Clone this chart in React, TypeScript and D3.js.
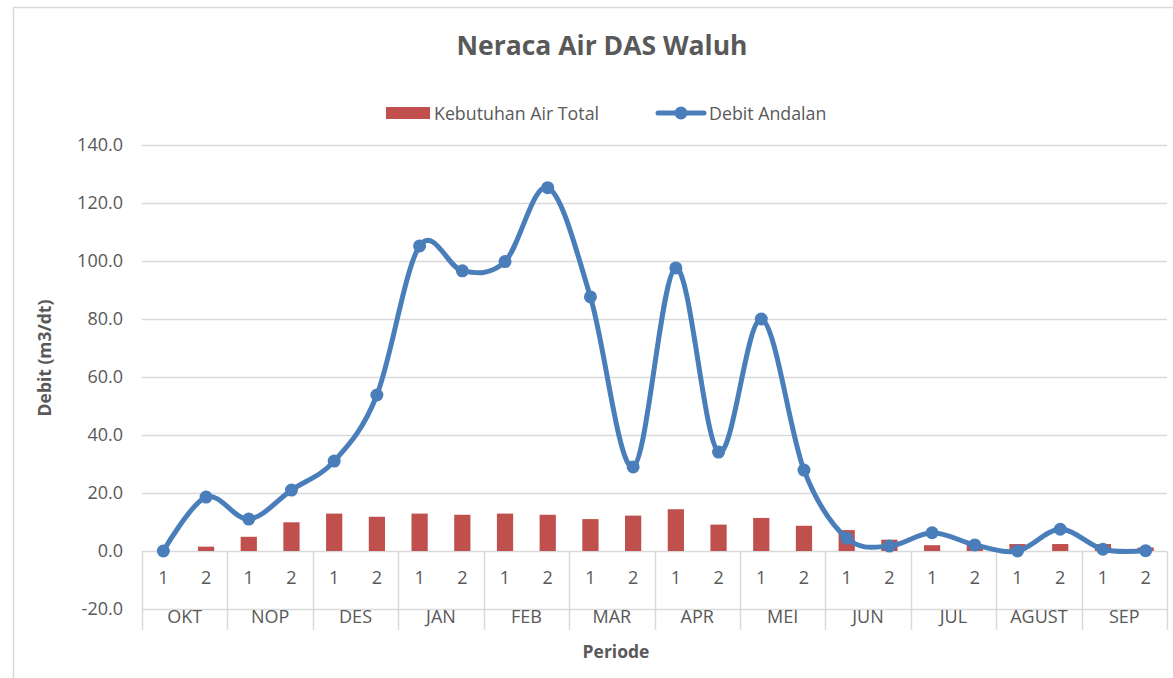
import React, { useEffect, useRef } from 'react';
import * as d3 from 'd3';

// half-month periods, two per month
const months = ['OKT', 'NOP', 'DES', 'JAN', 'FEB', 'MAR', 'APR', 'MEI', 'JUN', 'JUL', 'AGUST', 'SEP'];
const halves = ['1', '2'];

// Kebutuhan Air Total (m3/dt)
const kebutuhan = [0, 1.5, 4.9, 9.9, 12.9, 11.8, 12.9, 12.5, 12.9, 12.5, 11.0, 12.2,
  14.4, 9.1, 11.4, 8.7, 7.2, 3.9, 2.0, 2.2, 2.4, 2.4, 2.4, 1.2];

// Debit Andalan (m3/dt)
const debit = [0.0, 18.6, 11.0, 21.0, 31.0, 53.8, 105.2, 96.6, 99.8, 125.3, 87.6, 29.0,
  97.6, 34.1, 80.0, 27.9, 4.4, 1.7, 6.3, 2.1, 0.0, 7.5, 0.6, 0.1];

const yTicks = [-20, 0, 20, 40, 60, 80, 100, 120, 140];

const FONT = "'Open Sans', 'Liberation Sans', sans-serif";
const TEXT = '#595959';
const GRID = '#d9d9d9';
const RED = '#c0504d';
const BLUE = '#4a7ebb';

const NeracaAirChart = () => {
  const svgRef = useRef<SVGSVGElement | null>(null);

  useEffect(() => {
    if (!svgRef.current) return;
    const svg = d3.select(svgRef.current);
    svg.selectAll('*').remove();

    const width = 1173;
    const height = 678;
    const plot = { left: 142, right: 1167, top: 145, bottom: 609 };

    const periods = months.flatMap((m) => halves.map((h) => `${m}-${h}`));

    const x = d3.scaleBand<string>()
      .domain(periods)
      .range([plot.left, plot.right])
      .padding(0);

    const y = d3.scaleLinear()
      .domain([-20, 140])
      .range([plot.bottom, plot.top]);

    const barW = x.bandwidth() * 0.38;
    const cx = (i: number) => (x(periods[i]) as number) + x.bandwidth() / 2;

    // chart frame
    svg.append('rect')
      .attr('x', 13.5).attr('y', 7.5)
      .attr('width', width).attr('height', height)
      .attr('fill', 'white')
      .attr('stroke', GRID)
      .attr('stroke-width', 1.5);

    // title
    svg.append('text')
      .attr('x', 602).attr('y', 55)
      .attr('text-anchor', 'middle')
      .attr('font-family', FONT)
      .attr('font-size', 26.5)
      .attr('font-weight', 'bold')
      .attr('fill', TEXT)
      .text('Neraca Air DAS Waluh');

    // legend
    const legend = svg.append('g').attr('font-family', FONT).attr('font-size', 17.8).attr('fill', TEXT);
    legend.append('rect').attr('x', 386).attr('y', 107).attr('width', 44).attr('height', 12).attr('fill', RED);
    legend.append('text').attr('x', 434).attr('y', 119.5).text('Kebutuhan Air Total');
    legend.append('line')
      .attr('x1', 658).attr('x2', 704).attr('y1', 113).attr('y2', 113)
      .attr('stroke', BLUE).attr('stroke-width', 5).attr('stroke-linecap', 'round');
    legend.append('circle').attr('cx', 681).attr('cy', 113).attr('r', 6.5).attr('fill', BLUE);
    legend.append('text').attr('x', 709).attr('y', 119.5).text('Debit Andalan');

    // gridlines + y tick labels
    const grid = svg.append('g');
    grid.selectAll('line')
      .data(yTicks)
      .enter()
      .append('line')
      .attr('x1', plot.left).attr('x2', plot.right)
      .attr('y1', (d) => Math.round(y(d)) + 0.5).attr('y2', (d) => Math.round(y(d)) + 0.5)
      .attr('stroke', GRID).attr('stroke-width', 1.5);

    svg.append('g')
      .selectAll('text')
      .data(yTicks)
      .enter()
      .append('text')
      .attr('x', 123)
      .attr('y', (d) => y(d))
      .attr('dy', '0.35em')
      .attr('text-anchor', 'end')
      .attr('font-family', FONT)
      .attr('font-size', 18)
      .attr('fill', TEXT)
      .text((d) => d.toFixed(1));

    // category axis box: month dividers from the zero line down
    const y0 = Math.round(y(0)) + 0.5;
    const bounds = months.map((_, i) => x(periods[i * 2]) as number).concat([plot.right]);
    svg.append('g')
      .selectAll('line')
      .data(bounds)
      .enter()
      .append('line')
      .attr('x1', (d) => Math.round(d) + 0.5).attr('x2', (d) => Math.round(d) + 0.5)
      .attr('y1', y0).attr('y2', 630)
      .attr('stroke', GRID).attr('stroke-width', 1.5);

    svg.append('g')
      .selectAll('text')
      .data(periods)
      .enter()
      .append('text')
      .attr('x', (_, i) => cx(i))
      .attr('y', 578)
      .attr('dy', '0.35em')
      .attr('text-anchor', 'middle')
      .attr('font-family', FONT)
      .attr('font-size', 18)
      .attr('fill', TEXT)
      .text((d) => d.split('-')[1]);

    svg.append('g')
      .selectAll('text')
      .data(months)
      .enter()
      .append('text')
      .attr('x', (_, i) => (bounds[i] + bounds[i + 1]) / 2)
      .attr('y', 617)
      .attr('dy', '0.35em')
      .attr('text-anchor', 'middle')
      .attr('font-family', FONT)
      .attr('font-size', 18)
      .attr('fill', TEXT)
      .text((d) => d);

    // axis titles
    svg.append('text')
      .attr('transform', `translate(51, 358) rotate(-90)`)
      .attr('text-anchor', 'middle')
      .attr('font-family', FONT)
      .attr('font-size', 17.5)
      .attr('font-weight', 'bold')
      .attr('fill', TEXT)
      .text('Debit (m3/dt)');

    svg.append('text')
      .attr('x', 616).attr('y', 658)
      .attr('text-anchor', 'middle')
      .attr('font-family', FONT)
      .attr('font-size', 17.5)
      .attr('font-weight', 'bold')
      .attr('fill', TEXT)
      .text('Periode');

    // bars
    svg.append('g')
      .selectAll('rect')
      .data(kebutuhan)
      .enter()
      .append('rect')
      .attr('x', (_, i) => cx(i) - barW / 2)
      .attr('width', barW)
      .attr('y', (d) => y(d))
      .attr('height', (d) => y(0) - y(d))
      .attr('fill', RED);

    // smoothed line
    const line = d3.line<number>()
      .x((_, i) => cx(i))
      .y((d) => y(d))
      .curve(d3.curveCardinal.tension(0));

    svg.append('path')
      .datum(debit)
      .attr('d', line)
      .attr('fill', 'none')
      .attr('stroke', BLUE)
      .attr('stroke-width', 5)
      .attr('stroke-linejoin', 'round')
      .attr('stroke-linecap', 'round');

    svg.append('g')
      .selectAll('circle')
      .data(debit)
      .enter()
      .append('circle')
      .attr('cx', (_, i) => cx(i))
      .attr('cy', (d) => y(d))
      .attr('r', 6.5)
      .attr('fill', BLUE);
  }, []);

  return (
    <svg
      ref={svgRef}
      width={1173}
      height={678}
      style={{ position: 'absolute', left: 0, top: 0, display: 'block' }}
    />
  );
};

export default function App() {
  return <NeracaAirChart />;
}
